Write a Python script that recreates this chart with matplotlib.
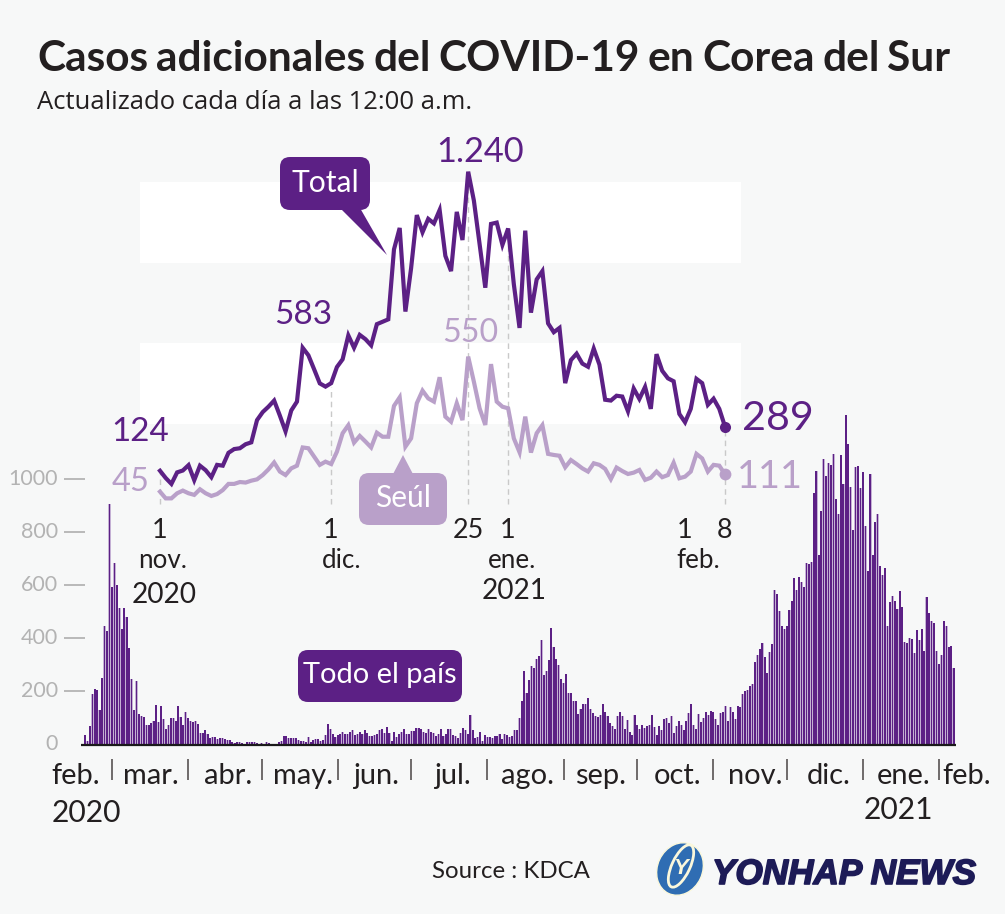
import matplotlib
matplotlib.use('Agg')
import matplotlib.pyplot as plt
import matplotlib.patheffects as pe
from matplotlib.patches import FancyBboxPatch, Polygon, Ellipse
import numpy as np

# daily cases, country, from 19 feb 2020 to 8 feb 2021
cases = [34, 13, 71, 188, 208, 205, 128, 250, 447, 425, 905, 591, 683, 598, 514, 435, 514, 481, 363, 245,
         128, 239, 113, 108, 105, 74, 74, 81, 90, 149, 84, 144, 96, 60, 74, 98, 101, 90, 144, 103,
         75, 123, 98, 88, 84, 90, 78, 44, 44, 53, 40, 26, 27, 29, 22, 25, 25, 21, 18, 16,
         9, 6, 9, 8, 6, 3, 8, 8, 9, 11, 5, 2, 6, 2, 10, 5, 2, 2, 2, 9,
         15, 31, 31, 25, 26, 25, 26, 18, 13, 13, 11, 30, 10, 18, 21, 22, 15, 16, 36, 78,
         58, 38, 27, 34, 38, 46, 38, 38, 48, 55, 36, 38, 46, 40, 53, 45, 33, 31, 34, 38,
         55, 58, 45, 65, 45, 15,
         46, 28, 40, 46, 60, 41, 41, 49, 51, 61, 61, 58, 46, 44, 60, 48, 44, 33, 41, 60,
         31, 39, 59, 59, 36, 31, 25, 43, 61, 56, 40, 110, 56, 24, 28, 46, 15, 36, 29, 28,
         23, 33, 33, 41, 19, 41, 34, 28, 33, 53, 54, 100, 165, 277, 195, 243, 296, 286, 322, 331,
         393, 263, 278, 318, 438,
         368, 320, 297, 247, 233, 266, 193, 195, 165, 165, 116, 134, 154, 154, 174, 134, 119, 106, 105, 110,
         152, 124, 108, 80, 68, 60, 108, 123, 109, 60, 93, 48, 35, 110, 74, 60, 74, 61, 70, 74,
         112, 66, 35, 70, 56, 95, 99, 81, 108, 45, 70, 89, 74, 56, 89, 119, 153, 74, 59, 115,
         85, 100, 123, 112, 127, 123, 94, 73, 117, 124,
         143, 88, 140, 122, 96, 143, 140, 188, 203, 205, 219, 228, 310, 338, 360, 382, 328, 268, 347, 378,
         581, 566, 501, 445, 434, 447, 507, 538, 625, 581, 628, 610, 591, 683, 679, 685, 946, 1028, 714, 876,
         1074, 1010, 1059, 1049, 1093, 924, 867, 1089, 980, 1237, 1128, 967, 805, 1043, 1046, 965, 1026, 822, 654, 1016,
         713, 837, 867, 670, 638, 663, 447, 534, 559, 540, 510, 576, 518, 387, 382, 401, 398, 343, 429, 391,
         434, 351, 555, 494, 466, 456, 352, 302, 335, 464, 447, 368, 370, 287]

# 1 nov 2020 to 8 feb 2021
total = [124, 97, 75, 118, 125, 145, 89, 143, 126, 100, 146, 143, 191, 205, 208, 223, 230, 313, 343, 363,
         386, 330, 271, 349, 382, 583, 555, 503, 450, 438, 451, 511, 540, 629, 583, 631, 615, 592, 671, 680,
         689, 950, 1030, 718, 880, 1078, 1014, 1064, 1047, 1097, 926, 869, 1090, 985, 1240, 1132, 970, 807, 1045, 1050,
         967, 1028, 820, 657, 1020, 714, 838, 869, 674, 641, 657, 451, 537, 561, 524, 512, 580, 520, 389, 386,
         404, 401, 346, 431, 392, 437, 355, 559, 497, 469, 458, 336, 305, 355, 467, 451, 370, 393, 355, 289]
seoul = [46, 21, 21, 40, 50, 40, 34, 55, 40, 30, 37, 52, 75, 75, 82, 80, 87, 92, 108, 129,
         155, 121, 108, 133, 143, 211, 208, 177, 146, 158, 149, 195, 264, 294, 229, 254, 233, 211, 266, 251,
         251, 366, 398, 214, 245, 376, 423, 394, 382, 473, 326, 307, 376, 313, 550, 456, 357, 295, 522, 382,
         363, 357, 245, 193, 326, 192, 264, 294, 187, 183, 180, 137, 164, 149, 133, 121, 152, 146, 131, 93,
         136, 123, 112, 117, 127, 90, 98, 121, 100, 108, 154, 96, 102, 121, 187, 170, 121, 146, 143, 111]

y_ticks = [0, 200, 400, 600, 800, 1000]
# days since 19 feb 2020
month_starts = [11, 42, 72, 103, 133, 164, 195, 225, 256, 286, 317, 348]
month_labels = ['feb.', 'mar.', 'abr.', 'may.', 'jun.', 'jul.', 'ago.', 'sep.', 'oct.', 'nov.', 'dic.', 'ene.', 'feb.']
month_label_px = [76, 151, 228, 303, 376, 452, 527, 601, 678, 755, 829, 904, 967]
guide_days = [0, 30, 54, 61, 99]
guide_tops = [124, 438, 1240, 1028, 289]

BG = '#f7f8f8'
PURPLE = '#5c2085'
LILAC = '#b9a0c9'
INK = '#231f20'
FONT = 'Lato'
W, H = 1005, 914

fig = plt.figure(figsize=(W / 100, H / 100), dpi=100, facecolor=BG)


def full_axes(xlim, ylim, z):
    a = fig.add_axes([0, 0, 1, 1], zorder=z)
    a.set_xlim(*xlim)
    a.set_ylim(*ylim)
    a.axis('off')
    return a


# bars: 0 at y=744.5px, 0.266 px per case, first bar at x=85px, 2.454 px per day
bar_dx, bar_dy = 2.454, 0.266
ax_bar = full_axes(((0 - 85) / bar_dx, (W - 85) / bar_dx),
                   ((744.5 - H) / bar_dy, 744.5 / bar_dy), 1)
ax_bar.bar(np.arange(len(cases)), cases, width=1.0, color='#c4b0d4', linewidth=0)
ax_bar.bar(np.arange(len(cases)), cases, width=0.66, color=PURPLE, linewidth=0)
ax_bar.plot([-1.5, 354.8], [0, 0], color='#1a1a1a', lw=1.6, solid_capstyle='butt')
ax_bar.hlines(y_ticks[1:], -8.5, 0.2, color='#a8a8a8', lw=1.1)
ax_bar.vlines(month_starts, -135, -53, color='#4a4445', lw=1.1)
for v in y_ticks:
    ax_bar.text(-11, v, str(v), ha='right', va='center', color='#b3b3b3',
                fontsize=15.5, family=FONT)

# lines: 0 at y=504px, 0.268 px per case, 1 nov at x=160px, 5.707 px per day
line_dx, line_dy = 5.707, 0.268
ax_line = full_axes(((0 - 160) / line_dx, (W - 160) / line_dx),
                    ((504 - H) / line_dy, 504 / line_dy), 2)
days = np.arange(len(total))
ax_line.fill_between([-3.5, 101.8], 300, 600, color='white', lw=0, zorder=1)
ax_line.fill_between([-3.5, 101.8], 900, 1200, color='white', lw=0, zorder=1)
ax_line.vlines(guide_days, 0, guide_tops, color='#c9c9c9', lw=1, linestyles=(0, (4, 3)), zorder=2)
ax_line.plot(days, seoul, color=LILAC, lw=3.0, solid_joinstyle='miter', zorder=3)
ax_line.plot(days, total, color=PURPLE, lw=3.0, solid_joinstyle='miter', zorder=4)
ax_line.plot(days[-1], seoul[-1], 'o', color=LILAC, ms=8.5, mew=0, zorder=3)
ax_line.plot(days[-1], total[-1], 'o', color=PURPLE, ms=8, mew=0, zorder=4)

# everything below is in pixels
ax = full_axes((0, W), (H, 0), 3)


def label(x, y, s, px, color=INK, ha='center', va='center', family=FONT, weight='normal', **kw):
    return ax.text(x, y, s, fontsize=px * 0.72, color=color, ha=ha, va=va, family=family, weight=weight, **kw)


def fit_width(t, width):
    r = fig.canvas.get_renderer()
    t.set_fontsize(t.get_fontsize() * width / t.get_window_extent(r).width)


def callout(x0, y0, x1, y1, color, s, px, tip=None):
    ax.add_patch(FancyBboxPatch((x0 + 10, y0 + 10), x1 - x0 - 20, y1 - y0 - 20,
                                boxstyle='round,pad=10,rounding_size=10', fc=color, ec='none', zorder=5))
    if tip is not None:
        ax.add_patch(Polygon(tip, closed=True, fc=color, ec='none', zorder=5))
    label((x0 + x1) / 2, (y0 + y1) / 2 - 1, s, px, color='white', zorder=6)


def tight_words(x, y, s, px, gap, width, **kw):
    # the title in the original has very narrow word gaps
    r = fig.canvas.get_renderer()
    words = [label(x, y, w, px, ha='left', va='baseline', **kw) for w in s.split()]
    sizes = [w.get_window_extent(r).width for w in words]
    k = (width - gap * (len(words) - 1)) / sum(sizes)
    for w, sz in zip(words, sizes):
        w.set_fontsize(w.get_fontsize() * k)
        w.set_x(x)
        x += sz * k + gap


tight_words(37, 71, 'Casos adicionales del COVID-19 en Corea del Sur', 44, 8, 913, weight='bold')
t = label(37, 109, 'Actualizado cada día a las 12:00 a.m.', 24, ha='left', va='baseline', family='Open Sans')
fit_width(t, 435)

callout(280, 157, 370, 210, PURPLE, 'Total', 30,
        tip=[(340, 208), (360, 208), (387, 255)])
callout(359, 473, 447, 525, LILAC, 'Seúl', 30,
        tip=[(392, 476), (414, 476), (403, 455)])
callout(298, 650, 462, 702, PURPLE, 'Todo el país', 29)

# big numbers, width
big = [(480, 152, '1.240', 88, PURPLE), (303, 315, '583', 58, PURPLE), (140, 432, '124', 58, PURPLE),
       (131, 482, '45', 38, LILAC), (470, 333, '550', 56, LILAC), (778, 419, '289', 72, PURPLE),
       (770, 477, '111', 66, LILAC)]
for x, y, s, wd, col in big:
    fit_width(label(x, y, s, 40, color=col), wd)

for x, s in zip([160, 331, 468, 508, 685, 725], ['1', '1', '25', '1', '1', '8']):
    label(x, 530, s, 27)
for x, s in zip([163, 342, 512, 698], ['nov.', 'dic.', 'ene.', 'feb.']):
    label(x, 560, s, 26)
label(164, 595, '2020', 28)
label(514, 591, '2021', 28)

for x, s in zip(month_label_px, month_labels):
    label(x, 776, s, 29)
label(86, 813, '2020', 30)
label(898, 810, '2021', 30)

label(511, 872, 'Source : KDCA', 24)

# logo
ax.add_patch(Ellipse((680, 869), 45, 54, angle=25, fc='#2f6db3', ec='#fbf8dc', lw=1, zorder=5))
ax.add_patch(Ellipse((681, 866), 18, 46, angle=25, fc='none', ec='#fbf8dc', lw=2, zorder=6))
label(680, 868, 'Y', 22, color='#fbf8dc', family='Liberation Sans', style='italic', weight='bold', zorder=7)
t = label(712, 884, 'YONHAP NEWS', 36, color='#1d1b57', ha='left', va='baseline',
          family='Liberation Sans', style='italic', weight='bold',
          path_effects=[pe.withStroke(linewidth=1.2, foreground='#1d1b57')])
fit_width(t, 264)

fig.savefig('out.png', dpi=100, facecolor=BG)
